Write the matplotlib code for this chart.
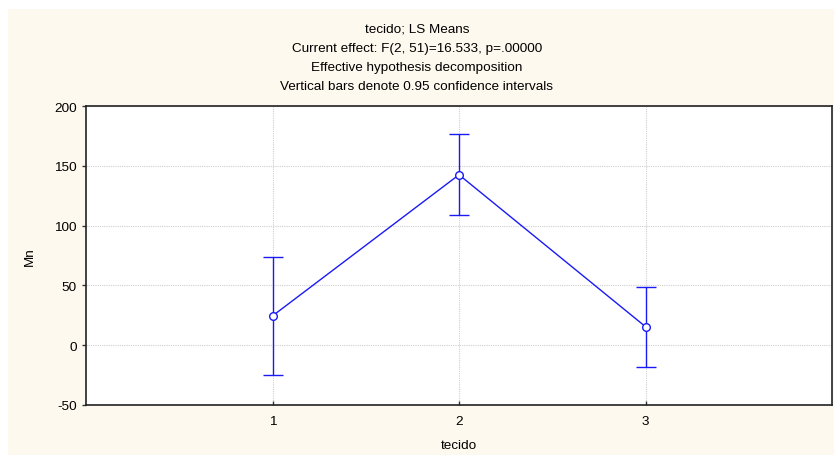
import matplotlib
matplotlib.use("Agg")
import matplotlib.pyplot as plt
from matplotlib.patches import Rectangle

plt.rcParams['font.family'] = ['Liberation Sans', 'DejaVu Sans']
plt.rcParams['axes.unicode_minus'] = False

# LS means for each tecido with 95% CI bounds
tecido = [1, 2, 3]
means = [24.5, 142.5, 15.5]
upper = [73.8, 176.5, 48.8]
lower = [-24.5, 109.0, -18.0]

titles = [
    "tecido; LS Means",
    "Current effect: F(2, 51)=16.533, p=.00000",
    "Effective hypothesis decomposition",
    "Vertical bars denote 0.95 confidence intervals",
]

fs = 9.7

fig = plt.figure(figsize=(8.34, 4.56), dpi=100, facecolor='white')
fig.patches.append(Rectangle((8 / 834, 0), 1, 1 - 10 / 456, transform=fig.transFigure,
                             facecolor='#FDF9EE', edgecolor='none', zorder=-1))

ax = fig.add_axes([86 / 834, 1 - 406 / 456, (832 - 86) / 834, (406 - 107) / 456])
ax.set_facecolor('white')

yerr = [[m - l for m, l in zip(means, lower)], [u - m for m, u in zip(means, upper)]]
ax.errorbar(tecido, means, yerr=yerr, color='#1A1AF5', lw=1, capsize=7, capthick=1,
            marker='o', ms=5.5, mfc='white', mec='#1A1AF5', mew=1, zorder=3)

ax.set_xlim(0, 4)
ax.set_ylim(-50, 200)
ax.set_xticks(tecido)
ax.set_yticks([-50, 0, 50, 100, 150, 200])
ax.grid(True, color='#CFCFCF', linestyle=(0, (1, 1)), linewidth=0.8)
ax.tick_params(axis='both', labelsize=fs, length=3, width=1, color='#333333')
ax.tick_params(axis='x', direction='in', pad=7)
for s in ax.spines.values():
    s.set_linewidth(1.2)
    s.set_color('#222222')

ax.set_xlabel("tecido", fontsize=fs, labelpad=9)
ax.set_ylabel("Mn", fontsize=fs, labelpad=13)

for i, t in enumerate(titles):
    fig.text(0.5, 1 - (30 + i * 19) / 456, t, ha='center', va='center', fontsize=fs)

fig.savefig("out.png", dpi=100)
